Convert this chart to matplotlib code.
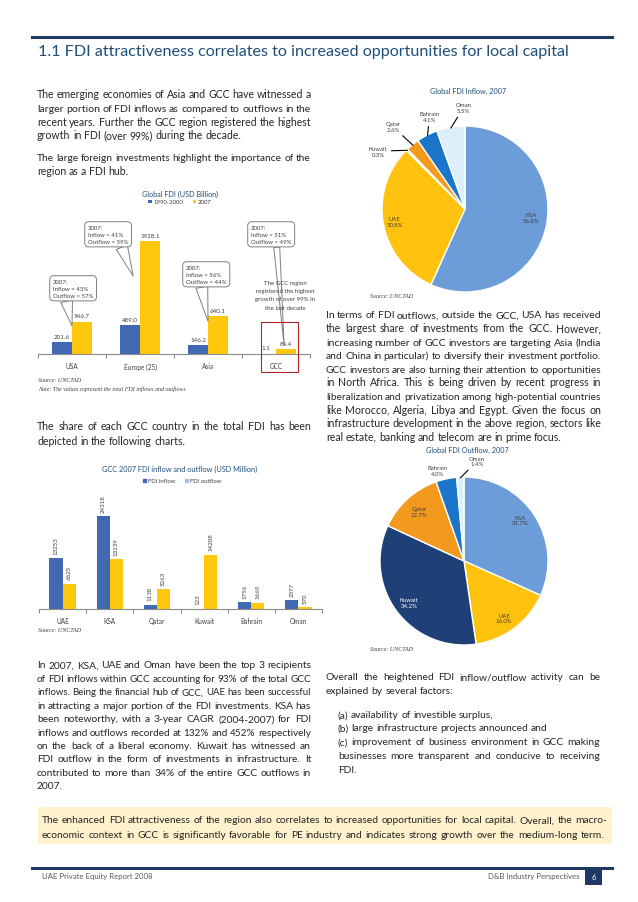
import matplotlib
matplotlib.use('Agg')
import matplotlib.pyplot as plt
from matplotlib.patches import Rectangle, Patch
import numpy as np

plt.rcParams['font.family'] = ['Lato', 'DejaVu Sans']

W, H, DPI = 638, 903, 100

# chart data
regions = ['USA', 'Europe (25)', 'Asia', 'GCC']
fdi_1990s = [201.6, 489.0, 146.2, 1.1]
fdi_2007 = [546.7, 1928.1, 640.1, 84.4]
callouts = ['2007:\nInflow = 43%\nOutflow = 57%', '2007:\nInflow = 41%\nOutflow = 59%',
            '2007:\nInflow = 56%\nOutflow = 44%', '2007:\nInflow = 51%\nOutflow = 49%']

gcc = ['UAE', 'KSA', 'Qatar', 'Kuwait', 'Bahrain', 'Oman']
gcc_inflow = [13253, 24318, 1138, 123, 1756, 2377]
gcc_outflow = [6625, 13139, 5263, 14208, 1669, 570]

pie_names = ['KSA', 'UAE', 'Kuwait', 'Qatar', 'Bahrain', 'Oman']
share_inflow = [56.8, 30.8, 0.3, 2.6, 4.1, 5.5]
share_outflow = [31.7, 16.0, 34.2, 12.7, 4.0, 1.4]

BLUE = '#4169B2'
GOLD = '#FFC80C'
NAVY = '#1F3864'
TITLE = '#1F4E79'
TEXT = '#262626'
pie_colors = ['#6C9DD8', '#FFC20E', '#1F3F77', '#F39A1E', '#1B75C8', '#DDEFFB']

fig = plt.figure(figsize=(W / DPI, H / DPI), dpi=DPI)
rend = fig.canvas.get_renderer()


def fx(x):
    return x / W


def fy(y):
    return 1 - y / H


def axes_px(x0, y0, x1, y1):
    return fig.add_axes([fx(x0), fy(y1), (x1 - x0) / W, (y1 - y0) / H])


def put(x, y, s, size, **kw):
    kw.setdefault('va', 'center')
    kw.setdefault('color', TEXT)
    return fig.text(fx(x), fy(y), s, fontsize=size, **kw)


def justify(x0, x1, y, line, size, last=False):
    # y is the centre of the line; words are set on a common baseline
    words = line.split()
    texts = [put(x0, y + 0.42 * size * DPI / 72, w, size, va='baseline') for w in words]
    widths = [t.get_window_extent(rend).width for t in texts]
    space = 0.24 * size * DPI / 72
    natural = sum(widths) + space * (len(words) - 1)
    scale = min(1.0, (x1 - x0) / natural)
    if scale < 1:
        for t in texts:
            t.set_fontsize(size * scale)
        widths = [w * scale for w in widths]
    if last or len(words) == 1:
        gap = space * scale
    else:
        gap = (x1 - x0 - sum(widths)) / (len(words) - 1)
    x = x0
    for t, w in zip(texts, widths):
        t.set_x(fx(x))
        x += w + gap


def paragraph(x0, x1, y0, step, lines, size):
    for i, line in enumerate(lines):
        justify(x0, x1, y0 + i * step, line, size, last=(i == len(lines) - 1))


def hline(y, x0=32, x1=612):
    fig.add_artist(plt.Line2D([fx(x0), fx(x1)], [fy(y), fy(y)], color=NAVY, lw=2.2))


def style_axis(ax, cats):
    for s in ('top', 'right', 'left'):
        ax.spines[s].set_visible(False)
    ax.spines['bottom'].set_color('#8C8C8C')
    ax.spines['bottom'].set_linewidth(0.8)
    ax.set_yticks([])
    ax.set_xticks(np.arange(len(cats)))
    ax.set_xticklabels(cats, fontsize=4.7, color='#404040')
    ax.set_xticks(np.arange(len(cats) + 1) - 0.5, minor=True)
    ax.tick_params(axis='x', which='major', length=0, pad=6)
    ax.tick_params(axis='x', which='minor', length=3, color='#8C8C8C', width=0.8)
    ax.patch.set_alpha(0)


def source(x, y, s='Source: UNCTAD'):
    put(x, y, s, 4.3, family='Liberation Serif', style='italic', color='#404040')


# header
hline(38)
t = put(38, 52, '1.1 FDI attractiveness correlates to increased opportunities for local capital',
        12, color=TITLE)
t.set_fontsize(12 * 532 / t.get_window_extent(rend).width)

# left column text
paragraph(37, 311, 94, 13.6, [
    'The emerging economies of Asia and GCC have witnessed a',
    'larger portion of FDI inflows as compared to outflows in the',
    'recent years. Further the GCC region registered the highest',
    'growth in FDI (over 99%) during the decade.'], 7.6)
paragraph(37, 311, 157, 13.6, [
    'The large foreign investments highlight the importance of the',
    'region as a FDI hub.'], 7.6)
paragraph(37, 311, 426, 14.5, [
    'The share of each GCC country in the total FDI has been',
    'depicted in the following charts.'], 7.6)

# chart 1: global FDI
put(180, 194, 'Global FDI (USD Billion)', 5.2, ha='center', color=TITLE)
ax1 = axes_px(38, 355 - 2400 * 113 / 1928.1, 310, 355)
x = np.arange(len(regions))
bw = 0.29
b1 = ax1.bar(x - bw / 2, fdi_1990s, bw, color=BLUE, label='1990-2000')
b2 = ax1.bar(x + bw / 2, fdi_2007, bw, color=GOLD, label='2007')
ax1.set_xlim(-0.5, len(regions) - 0.5)
ax1.set_ylim(0, 2400)
for bars in (b1, b2):
    ax1.bar_label(bars, labels=[f'{v:.1f}' for v in bars.datavalues], fontsize=4.5,
                  padding=2.5, color='#404040')
style_axis(ax1, regions)
fig.legend(handles=[b1, b2], loc='center', bbox_to_anchor=(fx(180), fy(203)), ncol=2,
           frameon=False, fontsize=4.3, handlelength=0.55, handleheight=0.55,
           handletextpad=0.3, columnspacing=1.6, labelcolor='#404040')

# callout bubbles over chart 1
box_xy = [(50, 277), (85, 223), (183, 263), (248, 223)]
tips = [(0.0, 480), (0.9, 1330), (2.0, 560), (3.12, 140)]
rel = [(0.3, 0.2), (0.75, 0.3), (0.35, 0.3), (0.62, 0.3)]
tails = [2.0, 2.0, 2.0, 1.0]
for txt, (bx, by), tip, rp, tw in zip(callouts, box_xy, tips, rel, tails):
    ax1.annotate(txt, xy=tip, xytext=(fx(bx + 3), fy(by + 3)), textcoords='figure fraction',
                 ha='left', va='top', fontsize=4.3, color='#404040', linespacing=1.45,
                 bbox=dict(boxstyle='round,pad=0.55,rounding_size=0.7', fc='white',
                           ec='#7F7F7F', lw=0.7),
                 arrowprops=dict(arrowstyle=f'wedge,tail_width={tw}', fc='white', ec='#7F7F7F',
                                 lw=0.7, shrinkA=0, shrinkB=0, relpos=rp),
                 annotation_clip=False)

put(285, 296, 'The GCC region\nregistered the highest\ngrowth of over 99% in\nthe last decade',
    4.4, ha='center', color='#404040', linespacing=1.75)
fig.add_artist(Rectangle((fx(261), fy(373)), 37 / W, 50 / H, transform=fig.transFigure,
                         fill=False, ec='#B22222', lw=0.8))
source(38, 381)
source(38, 389, 'Note: The values represent the total FDI inflows and outflows')

# chart 2: GCC inflow / outflow
put(180, 469, 'GCC 2007 FDI inflow and outflow (USD Million)', 5.3, ha='center', color=TITLE)
ax2 = axes_px(39, 610 - 30000 * 93 / 24318, 322, 610)
x = np.arange(len(gcc))
bw = 0.28
c1 = ax2.bar(x - bw / 2, gcc_inflow, bw, color=BLUE)
c2 = ax2.bar(x + bw / 2, gcc_outflow, bw, color=GOLD)
ax2.set_xlim(-0.5, len(gcc) - 0.5)
ax2.set_ylim(0, 30000)
for bars in (c1, c2):
    ax2.bar_label(bars, fontsize=4.4, padding=3, rotation=90, color='#404040')
style_axis(ax2, gcc)
fig.legend(handles=[Patch(color=BLUE, label='FDI inflow'), Patch(color='#A7BFE6', label='FDI outflow')],
           loc='center', bbox_to_anchor=(fx(182), fy(482)), ncol=2, frameon=False, fontsize=4.3,
           handlelength=0.55, handleheight=0.55, handletextpad=0.3, columnspacing=1.6,
           labelcolor='#404040')
source(38, 630)


# pies
def pie(cx, cy, r, shares, spots, leaders, title, ty, white=()):
    ax = axes_px(cx - r, cy - r, cx + r, cy + r)
    wedges, _ = ax.pie(shares, colors=pie_colors, startangle=90, counterclock=False,
                       wedgeprops=dict(edgecolor='white', linewidth=1.0))
    ax.set_xlim(-1, 1)
    ax.set_ylim(-1, 1)
    for w, name, v, (rr, da), lead in zip(wedges, pie_names, shares, spots, leaders):
        mid = np.deg2rad((w.theta1 + w.theta2) / 2)
        a = mid + np.deg2rad(da)
        col = 'white' if name in white else '#404040'
        lab = f'{name}\n{v:.1f}%'
        if lead:
            ax.annotate(lab, xy=(0.99 * np.cos(mid), 0.99 * np.sin(mid)),
                        xytext=(rr * np.cos(a), rr * np.sin(a)), ha='center', va='center',
                        fontsize=4.3, color=col, annotation_clip=False,
                        arrowprops=dict(arrowstyle='-', color='black', lw=0.8, shrinkA=1, shrinkB=0))
        else:
            ax.text(rr * np.cos(a), rr * np.sin(a), lab, ha='center', va='center',
                    fontsize=4.3, color=col)
    put(cx + 3, ty, title, 5.2, ha='center', color=TITLE)
    source(370, cy + r + 4)


pie(465, 210, 83, share_inflow,
    [(0.8, 5), (0.86, 0), (1.26, 12), (1.32, 2), (1.19, -6), (1.22, -9)],
    [False, False, True, True, True, True], 'Global FDI Inflow, 2007', 91)
pie(464, 562, 84, share_outflow,
    [(0.83, 3), (0.83, -2), (0.82, 0), (0.8, 0), (1.12, 4), (1.2, -10)],
    [False, False, False, False, False, True], 'Global FDI Outflow, 2007', 450, white=('Kuwait',))

# right column text
paragraph(326, 601, 314, 13.6, [
    'In terms of FDI outflows, outside the GCC, USA has received',
    'the largest share of investments from the GCC. However,',
    'increasing number of GCC investors are targeting Asia (India',
    'and China in particular) to diversify their investment portfolio.',
    'GCC investors are also turning their attention to opportunities',
    'in North Africa. This is being driven by recent progress in',
    'liberalization and privatization among high-potential countries',
    'like Morocco, Algeria, Libya and Egypt. Given the focus on',
    'infrastructure development in the above region, sectors like',
    'real estate, banking and telecom are in prime focus.'], 7.6)

# bottom text
paragraph(37, 311, 664, 13.45, [
    'In 2007, KSA, UAE and Oman have been the top 3 recipients',
    'of FDI inflows within GCC accounting for 93% of the total GCC',
    'inflows. Being the financial hub of GCC, UAE has been successful',
    'in attracting a major portion of the FDI investments.  KSA has',
    'been noteworthy, with a 3-year CAGR (2004-2007) for FDI',
    'inflows and outflows recorded at 132% and 452% respectively',
    'on the back of a liberal economy. Kuwait has witnessed an',
    'FDI outflow in the form of investments in infrastructure. It',
    'contributed to more than 34% of the entire GCC outflows in',
    '2007.'], 7.4)
paragraph(326, 600, 676, 13.8, [
    'Overall the heightened FDI inflow/outflow activity can be',
    'explained by several factors:'], 7.4)
justify(338, 600, 714, '(a) availability of investible surplus,', 7.4, last=True)
justify(338, 600, 727, '(b) large infrastructure projects announced and', 7.4, last=True)
justify(338, 600, 741, '(c) improvement of business environment in GCC making', 7.4)
justify(338, 600, 755, 'businesses more transparent and conducive to receiving', 7.4)
justify(338, 600, 769, 'FDI.', 7.4, last=True)

fig.add_artist(Rectangle((fx(38), fy(845)), 574 / W, 37 / H, transform=fig.transFigure,
                         fc='#FFF2CC', ec='none', zorder=0))
justify(42, 607, 819, 'The enhanced FDI attractiveness of the region also correlates to increased '
        'opportunities for local capital. Overall, the macro-', 7.4)
justify(42, 604, 834, 'economic context in GCC is significantly favorable for PE industry and '
        'indicates strong growth over the medium-long term.', 7.4)

# footer
hline(869)
put(42, 877, 'UAE Private Equity Report 2008', 5.6, color='#595959')
put(580, 877, 'D&B Industry Perspectives', 5.6, ha='right', color='#595959')
fig.add_artist(Rectangle((fx(585), fy(886)), 17 / W, 17 / H, transform=fig.transFigure,
                         fc=NAVY, ec='none'))
put(593.5, 877.5, '6', 5.6, ha='center', color='white')

fig.savefig('out.png', dpi=DPI)
